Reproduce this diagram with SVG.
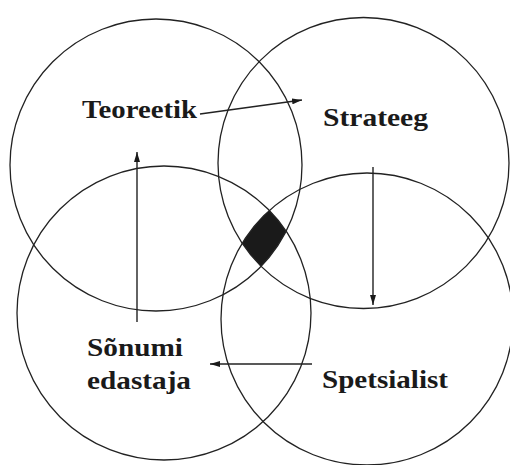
<svg xmlns="http://www.w3.org/2000/svg" width="510" height="465" viewBox="0 0 510 465">
<style>
.ring{fill:none;stroke:#222;stroke-width:1.3}
.lbl{font-family:"Liberation Serif","Times New Roman",serif;font-weight:bold;font-size:26px;fill:#1a1a1a}
.conn{fill:none;stroke:#222;stroke-width:1.4}
</style>
<defs>
<marker id="ah" viewBox="0 0 10 6" refX="10" refY="3" markerWidth="10" markerHeight="6" markerUnits="userSpaceOnUse" orient="auto">
<path d="M0,0 L10,3 L0,6 Z" fill="#1a1a1a"/>
</marker>
<clipPath id="cTL"><circle cx="156" cy="165" r="146"/></clipPath>
<clipPath id="cTR"><circle cx="363.5" cy="163" r="145.5"/></clipPath>
<clipPath id="cBL"><circle cx="164" cy="313" r="147"/></clipPath>
</defs>
<rect width="510" height="465" fill="#fff"/>
<g id="core">
<g clip-path="url(#cTL)"><g clip-path="url(#cTR)"><g clip-path="url(#cBL)">
<circle cx="367" cy="319" r="146" fill="#1a1a1a"/>
</g></g></g>
</g>
<g id="teoreetik">
<circle class="ring" cx="156" cy="165" r="146"/>
<text class="lbl" x="82" y="118" textLength="115" lengthAdjust="spacingAndGlyphs">Teoreetik</text>
</g>
<g id="strateeg">
<circle class="ring" cx="363.5" cy="163" r="145.5"/>
<text class="lbl" x="323" y="126" textLength="105" lengthAdjust="spacingAndGlyphs">Strateeg</text>
</g>
<g id="sonumi-edastaja">
<circle class="ring" cx="164" cy="313" r="147"/>
<text class="lbl" x="87" y="356" textLength="96" lengthAdjust="spacingAndGlyphs">Sõnumi</text>
<text class="lbl" x="87" y="389" textLength="104" lengthAdjust="spacingAndGlyphs">edastaja</text>
</g>
<g id="spetsialist">
<circle class="ring" cx="367" cy="319" r="146"/>
<text class="lbl" x="322" y="388" textLength="126" lengthAdjust="spacingAndGlyphs">Spetsialist</text>
</g>
<g id="connectors">
<line class="conn" x1="200" y1="114" x2="302" y2="100" marker-end="url(#ah)"/>
<line class="conn" x1="373" y1="167" x2="373" y2="305" marker-end="url(#ah)"/>
<line class="conn" x1="312" y1="364" x2="210" y2="364" marker-end="url(#ah)"/>
<line class="conn" x1="137" y1="322" x2="137" y2="152" marker-end="url(#ah)"/>
</g>
</svg>
